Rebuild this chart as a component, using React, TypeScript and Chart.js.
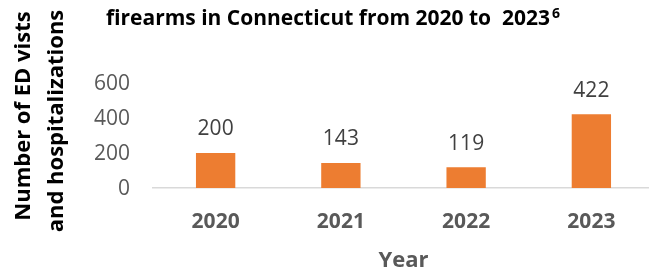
import React, { useEffect, useRef } from "react";
import { Chart, registerables } from "chart.js";

Chart.register(...registerables);

const categories = ["2020", "2021", "2022", "2023"];
const visits = [200, 143, 119, 422];
const yMin = 0;
const yMax = 600;
const yStep = 200;
const titleText = "firearms in Connecticut from 2020 to  2023";
const titleSup = "6";
const yTitleLines = ["Number of ED vists", "and hospitalizations"];
const xTitle = "Year";

const FONT = "'Open Sans', 'DejaVu Sans', sans-serif";

export default function App() {
  const ref = useRef<HTMLCanvasElement | null>(null);

  useEffect(() => {
    document.body.style.margin = "0";
    document.body.style.overflow = "hidden";
    const canvas = ref.current;
    if (!canvas) return;

    const textPlugin = {
      id: "textPlugin",
      afterDatasetsDraw(chart: any) {
        const ctx = chart.ctx;
        const meta = chart.getDatasetMeta(0);
        ctx.save();
        ctx.font = `21px ${FONT}`;
        ctx.fillStyle = "#404040";
        ctx.textAlign = "center";
        ctx.textBaseline = "middle";
        meta.data.forEach((bar: any, i: number) => {
          ctx.fillText(String(visits[i]), bar.x, bar.y - 23.5);
        });
        ctx.restore();
      },
      afterDraw(chart: any) {
        const ctx = chart.ctx;
        ctx.save();
        ctx.fillStyle = "#000000";
        ctx.font = `bold 21px ${FONT}`;
        ctx.textAlign = "left";
        ctx.textBaseline = "alphabetic";
        const tx = 106;
        ctx.fillText(titleText, tx, 25);
        const w = ctx.measureText(titleText).width;
        ctx.font = `bold 14px ${FONT}`;
        ctx.fillText(titleSup, tx + w + 2, 18);
        ctx.font = `bold 22px ${FONT}`;
        ctx.textAlign = "center";
        const pos = [
          [29.5, 116],
          [63, 121],
        ];
        yTitleLines.forEach((line, i) => {
          ctx.save();
          ctx.translate(pos[i][0], pos[i][1]);
          ctx.rotate(-Math.PI / 2);
          ctx.fillText(line, 0, 0);
          ctx.restore();
        });
        ctx.restore();
      },
    };

    const chart = new Chart(canvas, {
      type: "bar",
      data: {
        labels: categories,
        datasets: [
          {
            data: visits,
            backgroundColor: "#ED7D31",
            borderWidth: 0,
            categoryPercentage: 1,
            barPercentage: 0.314,
          },
        ],
      },
      options: {
        animation: false,
        responsive: false,
        layout: { padding: { top: 83, right: 6, left: 0, bottom: 0 } },
        plugins: {
          legend: { display: false },
          title: { display: false },
          tooltip: { enabled: false },
        },
        scales: {
          x: {
            grid: { display: false, drawTicks: false },
            border: { display: true, color: "#d9d9d9", width: 1.5 },
            ticks: {
              font: { family: FONT, size: 21, weight: "bold", lineHeight: 1.2 },
              color: "#595959",
              padding: 21,
            },
            title: {
              display: true,
              text: xTitle,
              color: "#595959",
              font: { family: FONT, size: 22, weight: "bold", lineHeight: 0.6 },
              padding: { top: 0, bottom: 0 },
            },
            afterFit(scale: any) {
              scale.height = 79;
            },
          },
          y: {
            min: yMin,
            max: yMax,
            grid: { display: false, drawTicks: false },
            border: { display: false },
            ticks: {
              stepSize: yStep,
              font: { family: FONT, size: 21 },
              color: "#595959",
              padding: 23,
              labelOffset: 1.5,
            },
            afterFit(scale: any) {
              scale.width = 153;
            },
          },
        },
      },
      plugins: [textPlugin],
    });

    return () => chart.destroy();
  }, []);

  return (
    <div style={{ position: "fixed", left: 0, top: 0, width: 649, height: 267, overflow: "hidden", background: "#ffffff" }}>
      <canvas ref={ref} width={660} height={267} style={{ display: "block", width: 660, height: 267 }} />
    </div>
  );
}
